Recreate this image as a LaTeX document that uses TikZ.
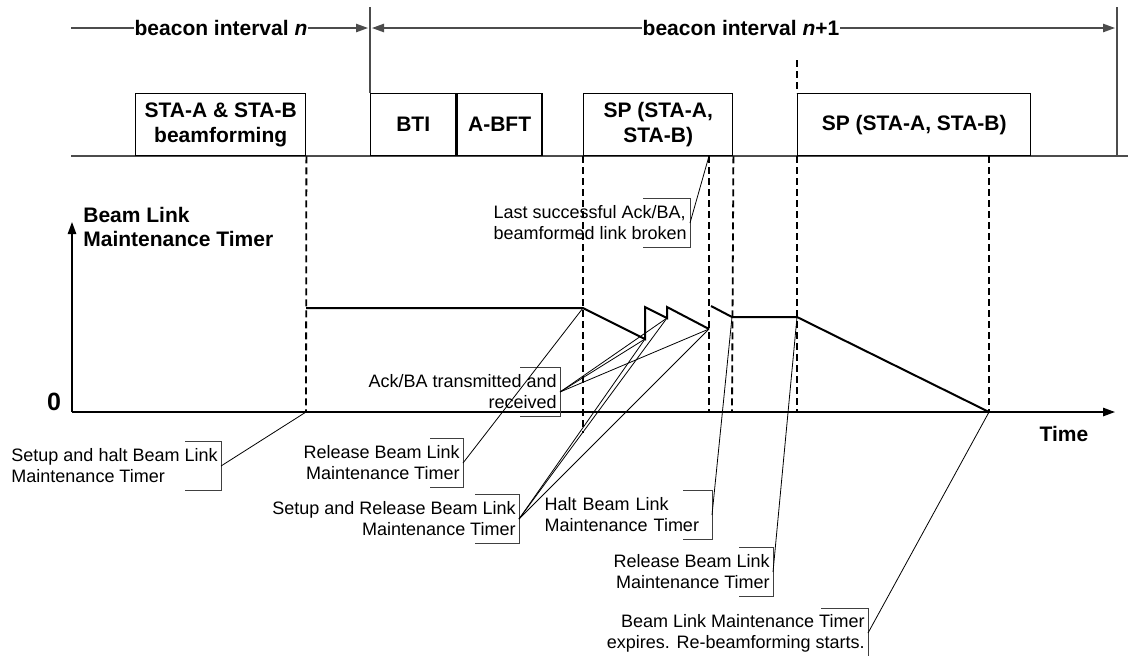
\documentclass[tikz,border=0pt]{standalone}
\usepackage{fontspec}
\setmainfont{Liberation Sans}
\usetikzlibrary{
    arrows.meta,
    positioning
}
\tikzset{
    >={Triangle[length=6pt,width=4.2pt]},
    slotbox/.style={
        draw,
        line width=0.7pt,
        minimum height=31pt,
        inner sep=0pt,
        align=center,
        anchor=north west,
        font=\bfseries\fontsize{10.5}{12.5}\selectfont
    },
    callout/.style={
        inner xsep=1.5pt,
        inner ysep=0pt,
        minimum height=24.5pt,
        anchor=east,
        font=\fontsize{9}{10.5}\selectfont
    },
    boldlabel/.style={
        inner sep=0pt,
        font=\bfseries\fontsize{10.5}{12}\selectfont
    },
    brk/.style={line width=0.5pt, black!75},
    leader/.style={line width=0.4pt},
    timer/.style={line width=1pt},
    marker/.style={dash pattern=on 3.5pt off 2pt, line width=0.9pt},
    rulel/.style={line width=0.65pt, black!70},
    axis/.style={line width=0.8pt, ->}
}
\newcommand{\callbrk}[2]{%
    \draw[brk] ([xshift=-#2]#1.north east) -- (#1.north east)
        -- (#1.south east) -- ([xshift=-#2]#1.south east);}

\begin{document}
\begin{tikzpicture}[x=0.5pt, y=-0.5pt]
    \useasboundingbox (0,0) rectangle (1128,655);

    % Zeitachse oben
    \draw[rulel] (71,156) -- (1128,156);

    \node[slotbox, minimum width=85pt]    (bf)   at (135,93)  {STA-A \& STA-B\\beamforming};
    \node[slotbox, minimum width=42.5pt]  (bti)  at (370,93)  {BTI};
    \node[slotbox, minimum width=42.5pt]  (abft) at (bti.north east) {A-BFT};
    \node[slotbox, minimum width=74.5pt]  (sp1)  at (583,93)  {SP (STA-A,\\STA-B)};
    \node[slotbox, minimum width=116.5pt] (sp2)  at (797,93)  {SP (STA-A, STA-B)};

    % Beacon-Intervalle
    \coordinate (bstart) at (370,7);
    \coordinate (bend)   at (1117,7);
    \coordinate (bendlo) at (1117,156);
    \coordinate (ia)     at (71,28);
    \coordinate (ib)     at (368,28);
    \coordinate (ic)     at (372,28);
    \coordinate (id)     at (1115,28);

    \draw[rulel] (bstart) -- (bti.north west);
    \draw[rulel] (bend) -- (bendlo);
    \draw[rulel, ->] (ia) -- (ib);
    \draw[rulel, <->] (ic) -- (id);

    \node[boldlabel, fill=white, inner xsep=0.5pt] (bin)  at (221,28) {beacon interval \textit{n}};
    \node[boldlabel, fill=white, inner xsep=0.5pt] (bin1) at (741,28) {beacon interval \textit{n}+1};

    % Achsen
    \coordinate (orig) at (72,412);
    \coordinate (ytop) at (72,222);
    \coordinate (xend) at (1115,412);

    \draw[axis] (orig) -- (ytop);
    \draw[axis] (orig) -- (xend);

    \node[boldlabel, anchor=north west, align=left] (ylab) at (83,207) {Beam Link\\Maintenance Timer};
    \node[boldlabel, font=\bfseries\fontsize{12.5}{13}\selectfont] (zero) at (54,402) {0};
    \node[boldlabel] (tlab) at (1064,434) {Time};

    % Zeitpunkte
    \coordinate (t0)      at (306,412);
    \coordinate (t1)      at (583,433);
    \coordinate (t2)      at (709,412);
    \coordinate (t3)      at (732,412);
    \coordinate (t4)      at (797,412);
    \coordinate (t5)      at (989,412);
    \coordinate (lastack) at (709,156);
    \coordinate (rtop)    at (797,60);
    \coordinate (exptop)  at (989,156);

    \draw[marker] (bf.south east) -- (t0);
    \draw[marker] (sp1.south west) -- (t1);
    \draw[marker] (lastack) -- (t2);
    \draw[marker] (sp1.south east) -- (t3);
    \draw[marker] (rtop) -- (sp2.north west);
    \draw[marker] (sp2.south west) -- (t4);
    \draw[marker] (exptop) -- (t5);

    % Timerverlauf
    \coordinate (lv0)  at (306,308);
    \coordinate (rel)  at (583,308);
    \coordinate (ack1) at (645,339);
    \coordinate (up1)  at (645,307);
    \coordinate (ack2) at (667,318);
    \coordinate (up2)  at (667,307);
    \coordinate (ack3) at (709,329);
    \coordinate (brk0) at (711,306);
    \coordinate (halt) at (732,317);
    \coordinate (rel2) at (797,317);

    \draw[timer] (lv0) -- (rel) -- (ack1) -- (up1) -- (ack2) -- (up2) -- (ack3);
    \draw[timer] (brk0) -- (halt) -- (rel2) -- (t5);

    % Beschriftungen
    \node[callout, align=left]  (c1) at (221,466) {Setup and halt Beam Link\\Maintenance Timer};
    \node[callout, align=right] (c2) at (463,463) {Release Beam Link\\Maintenance Timer};
    \node[callout, align=right] (c3) at (560,392) {Ack/BA transmitted and\\received};
    \node[callout, align=right] (c4) at (519,519) {Setup and Release Beam Link\\Maintenance Timer};
    \node[callout, align=left]  (c5) at (690,223) {Last successful Ack/BA,\\beamformed link broken};
    \node[callout, align=left, text width=82pt] (c6) at (712,515) {Halt Beam Link\\Maintenance Timer};
    \node[callout, align=right] (c7) at (773,572) {Release Beam Link\\Maintenance Timer};
    \node[callout, align=right] (c8) at (868,633) {Beam Link Maintenance Timer\\expires. Re-beamforming starts.};

    \callbrk{c1}{18pt}
    \callbrk{c2}{16.5pt}
    \callbrk{c3}{20pt}
    \callbrk{c4}{22pt}
    \callbrk{c5}{23.5pt}
    \callbrk{c6}{14.5pt}
    \callbrk{c7}{17pt}
    \callbrk{c8}{23.5pt}

    \draw[leader] (c1.east) -- (t0);
    \draw[leader] (c2.east) -- (rel);
    \draw[leader] (c3.east) -- (ack1);
    \draw[leader] (c3.east) -- (ack2);
    \draw[leader] (c3.east) -- (ack3);
    \draw[leader] (c4.east) -- (ack1);
    \draw[leader] (c4.east) -- (ack2);
    \draw[leader] (c4.east) -- (ack3);
    \draw[leader] (c5.east) -- (lastack);
    \draw[leader] (c6.east) -- (halt);
    \draw[leader] (c7.east) -- (rel2);
    \draw[leader] (c8.east) -- (t5);

\end{tikzpicture}
\end{document}
